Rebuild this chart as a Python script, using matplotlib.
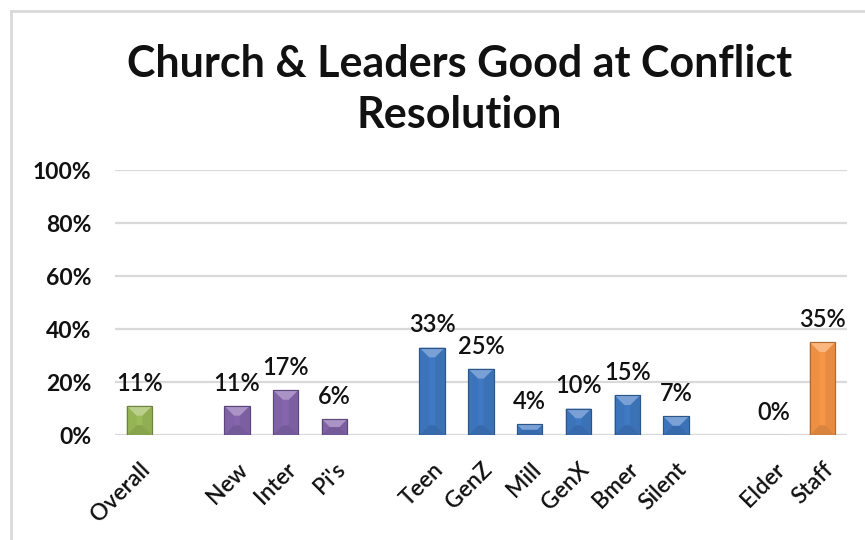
import matplotlib
matplotlib.use("Agg")
import matplotlib.pyplot as plt
from matplotlib.patches import Polygon
from matplotlib.lines import Line2D
from matplotlib.colors import to_rgb
from matplotlib.ticker import PercentFormatter

plt.rcParams['font.family'] = ['Lato', 'DejaVu Sans']

# blank strings are the spacer slots between groups
categories = ['Overall', '', 'New', 'Inter', "Pi's", '',
              'Teen', 'GenZ', 'Mill', 'GenX', 'Bmer', 'Silent', '',
              'Elder', 'Staff']
values = [11, None, 11, 17, 6, None,
          33, 25, 4, 10, 15, 7, None,
          0, 35]
groups = ['total', None, 'tenure', 'tenure', 'tenure', None,
          'gen', 'gen', 'gen', 'gen', 'gen', 'gen', None,
          'role', 'role']

group_colors = {
    'total': '#9BBB59',
    'tenure': '#8566AE',
    'gen': '#3F79C3',
    'role': '#F79646',
}


def shade(color, amount):
    # amount > 0 lightens toward white, < 0 darkens toward black
    r, g, b = to_rgb(color)
    if amount >= 0:
        return tuple(c + (1 - c) * amount for c in (r, g, b))
    return tuple(c * (1 + amount) for c in (r, g, b))


fig = plt.figure(figsize=(8.65, 5.4), dpi=100)
ax = fig.add_axes([0.133, 0.1944, 0.846, 0.4907])

xs = [i for i, v in enumerate(values) if v is not None]
vals = [values[i] / 100 for i in xs]
cols = [group_colors[groups[i]] for i in xs]

bar_w = 0.52
bars = ax.bar(xs, vals, width=bar_w, color=cols, zorder=3,
              edgecolor=[shade(c, -0.3) for c in cols], linewidth=0.8)

ax.set_xlim(-0.5, len(categories) - 0.5)
ax.set_ylim(0, 1)

# bevel: lighter top facet, slightly darker sides and bottom
ax_w_px = 0.846 * 865
ax_h_px = 0.4907 * 540
dx = 0.2
dy_full = dx * (ax_w_px / len(categories)) / ax_h_px
for b, c in zip(bars, cols):
    x0 = b.get_x()
    x1 = x0 + b.get_width()
    h = b.get_height()
    if h <= 0:
        continue
    dy = min(dy_full, h / 2)
    ddx = dx * dy / dy_full
    top = [(x0, h), (x1, h), (x1 - ddx, h - dy), (x0 + ddx, h - dy)]
    bot = [(x0, 0), (x1, 0), (x1 - ddx, dy), (x0 + ddx, dy)]
    left = [(x0, 0), (x0 + ddx, dy), (x0 + ddx, h - dy), (x0, h)]
    right = [(x1, 0), (x1 - ddx, dy), (x1 - ddx, h - dy), (x1, h)]
    for pts, amt in ((left, -0.04), (right, -0.07), (bot, -0.12), (top, 0.3)):
        ax.add_patch(Polygon(pts, closed=True, facecolor=shade(c, amt),
                             edgecolor='none', zorder=3.5))
    ax.add_patch(plt.Rectangle((x0, 0), x1 - x0, h, fill=False,
                               edgecolor=shade(c, -0.3), linewidth=0.8,
                               zorder=3.6))

for x, v in zip(xs, vals):
    ax.annotate(f'{round(v * 100)}%', (x, v), xytext=(0, 11),
                textcoords='offset points', ha='center', va='baseline',
                fontsize=17, fontweight='semibold', color='#111111', zorder=5)

ax.yaxis.set_major_formatter(PercentFormatter(1.0, decimals=0))
ax.set_yticks([0, 0.2, 0.4, 0.6, 0.8, 1.0])
ax.grid(axis='y', color='#D9D9D9', linewidth=1.6, zorder=0)
ax.set_axisbelow(True)
for s in ax.spines.values():
    s.set_visible(False)
ax.tick_params(axis='both', length=0)
ax.tick_params(axis='y', pad=17, labelsize=16.5)
for lab in ax.get_yticklabels():
    lab.set_fontweight('bold')
    lab.set_color('#111111')

ax.set_xticks(range(len(categories)))
ax.set_xticklabels(categories, rotation=45, ha='right',
                   rotation_mode='anchor', fontsize=16.5, fontweight='semibold',
                   color='#111111')
ax.tick_params(axis='x', pad=17)

fig.text(0.531, 0.9185, 'Church & Leaders Good at Conflict\nResolution',
         ha='center', va='top', fontsize=31, fontweight='bold',
         color='#111111', linespacing=1.32)

# chart frame edges
fig.add_artist(Line2D([11 / 865, 11 / 865], [0, 1 - 11 / 540],
                      transform=fig.transFigure, color='#D9D9D9', lw=2))
fig.add_artist(Line2D([11 / 865, 1], [1 - 11 / 540, 1 - 11 / 540],
                      transform=fig.transFigure, color='#D9D9D9', lw=2))

fig.savefig('out.png', dpi=100, facecolor='white')
